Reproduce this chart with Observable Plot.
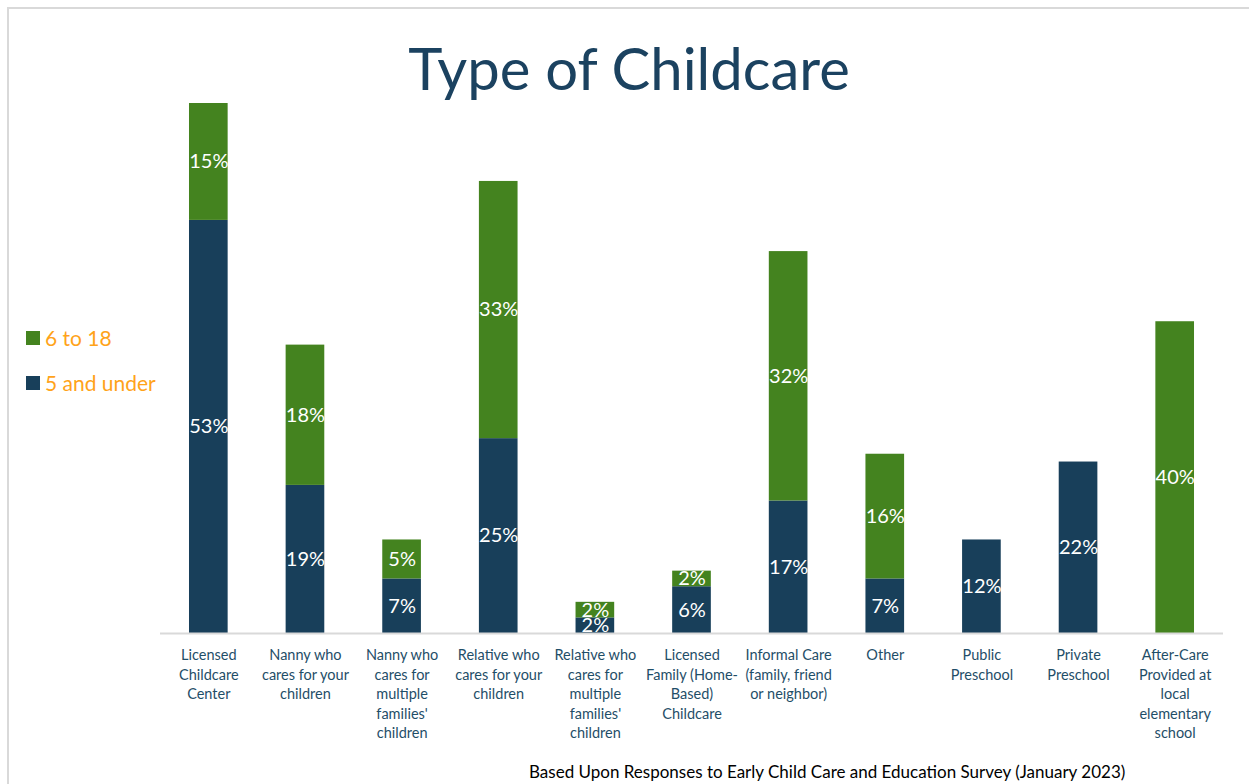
<!DOCTYPE html>
<html>
<head>
<meta charset="utf-8">
<script src="https://cdn.jsdelivr.net/npm/d3@7"></script>
<script src="https://cdn.jsdelivr.net/npm/@observablehq/plot@0.6"></script>
<style>
  html, body { margin: 0; padding: 0; background: #fff; }
  #page { position: relative; width: 1249px; height: 784px; overflow: hidden; font-family: Lato, "Open Sans", sans-serif; }
  #frame { position: absolute; left: 7px; top: 7px; right: 0; bottom: 0; border-top: 2px solid #d9d9d9; border-left: 2px solid #d9d9d9; }
  #title { position: absolute; left: 0; width: 1258px; top: 28px; text-align: center; font-size: 58px; color: #1b4260; line-height: 80px; }
  #legend { position: absolute; left: 26px; top: 325px; color: #ffa31a; font-size: 21px; }
  .li { position: absolute; white-space: nowrap; display: flex; align-items: center; }
  .sw { display: inline-block; width: 14px; height: 14px; margin-right: 5px; }
  #chart { position: absolute; left: 0; top: 90px; }
  #caption { position: absolute; left: 529px; top: 761px; font-size: 17px; color: #000; white-space: nowrap; }
</style>
</head>
<body>
<div id="page">
  <div id="frame"></div>
  <div id="title">Type of Childcare</div>
  <div id="legend"></div>
  <div id="chart"></div>
  <div id="caption">Based Upon Responses to Early Child Care and Education Survey (January 2023)</div>
</div>
<script>
// ---- data ----
const categories = [
  "Licensed Childcare Center",
  "Nanny who cares for your children",
  "Nanny who cares for multiple families' children",
  "Relative who cares for your children",
  "Relative who cares for multiple families' children",
  "Licensed Family (Home-Based) Childcare",
  "Informal Care (family, friend or neighbor)",
  "Other",
  "Public Preschool",
  "Private Preschool",
  "After-Care Provided at local elementary school"
];
const tickLabels = [
  "Licensed\nChildcare\nCenter",
  "Nanny who\ncares for your\nchildren",
  "Nanny who\ncares for\nmultiple\nfamilies'\nchildren",
  "Relative who\ncares for your\nchildren",
  "Relative who\ncares for\nmultiple\nfamilies'\nchildren",
  "Licensed\nFamily (Home-\nBased)\nChildcare",
  "Informal Care\n(family, friend\nor neighbor)",
  "Other",
  "Public\nPreschool",
  "Private\nPreschool",
  "After-Care\nProvided at\nlocal\nelementary\nschool"
];
const groups = ["5 and under", "6 to 18"];
const legendOrder = ["6 to 18", "5 and under"];
const under5 = [53, 19, 7, 25, 2, 6, 17, 7, 12, 22, null];
const age6to18 = [15, 18, 5, 33, 2, 2, 32, 16, null, null, 40];
const colors = ["#183f5a", "#44831f"];

// ---- tidy table ----
const rows = [];
categories.forEach((c, i) => {
  if (under5[i] != null) rows.push({category: c, group: groups[0], value: under5[i]});
  if (age6to18[i] != null) rows.push({category: c, group: groups[1], value: age6to18[i]});
});
const labelOf = new Map(categories.map((c, i) => [c, tickLabels[i]]));

// ---- legend ----
const legend = document.getElementById("legend");
legendOrder.forEach((g, i) => {
  const d = document.createElement("div");
  d.className = "li";
  d.style.top = (i * 45) + "px";
  const sw = document.createElement("span");
  sw.className = "sw";
  sw.style.background = colors[groups.indexOf(g)];
  d.appendChild(sw);
  d.appendChild(document.createTextNode(g));
  legend.appendChild(d);
});

// ---- chart ----
const chart = Plot.plot({
  width: 1249,
  height: 663,
  marginLeft: 160,
  marginRight: 26,
  marginTop: 13,
  marginBottom: 120,
  style: {fontFamily: "Lato, 'Open Sans', sans-serif", background: "transparent"},
  x: {domain: categories, paddingInner: 0.6, paddingOuter: 0.3, round: false, label: null},
  y: {domain: [0, 68], axis: null},
  color: {domain: groups, range: colors},
  marks: [
    Plot.barY(rows, {x: "category", y: "value", fill: "group", order: groups}),
    Plot.ruleY([0], {stroke: "#d9d9d9", strokeWidth: 2}),
    Plot.text(rows, Plot.stackY({
      x: "category", y: "value", z: "group", order: groups,
      text: d => d.value + "%",
      fill: "white", fontSize: 20
    })),
    Plot.axisX({
      tickSize: 0, tickPadding: 13, fontSize: 14.5, lineHeight: 1.34,
      fill: "#1f4e68", tickFormat: c => labelOf.get(c), label: null
    })
  ]
});
document.getElementById("chart").appendChild(chart);
</script>
</body>
</html>
